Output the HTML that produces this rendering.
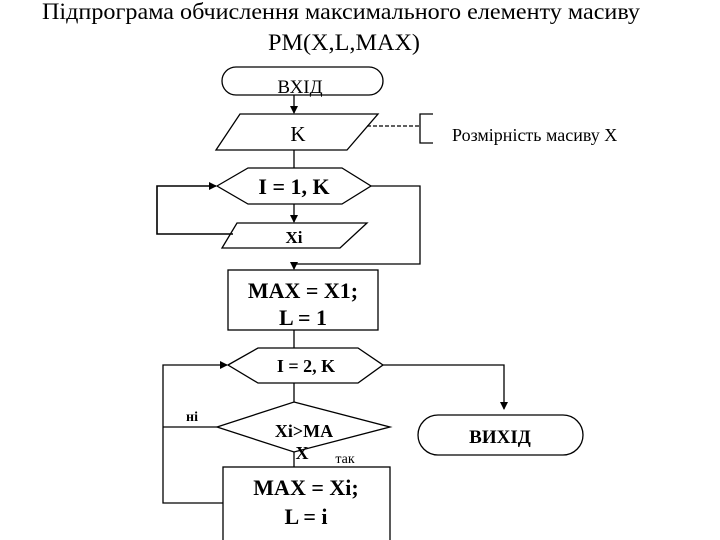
<!DOCTYPE html>
<html><head><meta charset="utf-8"><style>
body{margin:0;background:#fff}
svg{display:block}
text{font-family:"Liberation Serif",serif;fill:#000}
</style></head><body>
<svg width="720" height="540" viewBox="0 0 720 540">
<defs><marker id="a" markerWidth="8" markerHeight="8" refX="7" refY="4" orient="auto" markerUnits="userSpaceOnUse"><path d="M0,0 L8,4 L0,8z" fill="#000"/></marker></defs>
<text x="42" y="19" font-size="23" textLength="598" lengthAdjust="spacingAndGlyphs">Підпрограма обчислення максимального елементу масиву</text>
<text x="268" y="50" font-size="23" textLength="152" lengthAdjust="spacingAndGlyphs">PM(X,L,MAX)</text>
<g stroke="#000" stroke-width="1.3" fill="none">
<rect x="222" y="67" width="161" height="28" rx="14"/>
<line x1="294" y1="95" x2="294" y2="113" marker-end="url(#a)"/>
<polygon points="240,114 378,114 347,150 216,150"/>
<line x1="367" y1="126" x2="420" y2="126" stroke-dasharray="4,2"/>
<polyline points="433,114 420,114 420,143 433,143"/>
<line x1="294" y1="150" x2="294" y2="168"/>
<polygon points="217,186 248,168 342,168 371,186 342,204 248,204"/>
<polyline points="233,234 157,234 157,186 216,186" marker-end="url(#a)" stroke-width="1.6"/>
<polyline points="371,186 420,186 420,264 294,264 294,269" marker-end="url(#a)"/>
<line x1="294" y1="204" x2="294" y2="222" marker-end="url(#a)"/>
<polygon points="237,223 367,223 340,248 222,248"/>
<rect x="228" y="270" width="150" height="60"/>
<line x1="294" y1="330" x2="294" y2="348"/>
<polygon points="228,365 258,348 358,348 383,365 358,383 258,383"/>
<polyline points="223,503 163,503 163,365 227,365" marker-end="url(#a)"/>
<line x1="294" y1="383" x2="294" y2="402"/>
<polygon points="294,402 390,427 294,452 217,427"/>
<line x1="217" y1="427" x2="163" y2="427"/>
<line x1="294" y1="452" x2="294" y2="467"/>
<rect x="223" y="467" width="167" height="80"/>
<polyline points="383,365 504,365 504,409" marker-end="url(#a)"/>
<rect x="418" y="415" width="165" height="40" rx="20"/>
</g>
<text x="300" y="93" font-size="19" text-anchor="middle">ВХІД</text>
<text x="298" y="141" font-size="21" text-anchor="middle">K</text>
<text x="452" y="141" font-size="18">Розмірність масиву X</text>
<text x="294" y="194" font-size="22" font-weight="bold" text-anchor="middle">I = 1, K</text>
<text x="294" y="243" font-size="17" font-weight="bold" text-anchor="middle">Xi</text>
<text x="303" y="298" font-size="22" font-weight="bold" text-anchor="middle">MAX = X1;</text>
<text x="303" y="325" font-size="22" font-weight="bold" text-anchor="middle">L = 1</text>
<text x="306" y="372" font-size="18" font-weight="bold" text-anchor="middle">I = 2, K</text>
<text x="186" y="421" font-size="14" font-weight="bold">ні</text>
<text x="304" y="437" font-size="18" font-weight="bold" text-anchor="middle">Xi&gt;MA</text>
<text x="302" y="459" font-size="18" font-weight="bold" text-anchor="middle">X</text>
<text x="345" y="463" font-size="14" text-anchor="middle">так</text>
<text x="306" y="495" font-size="22" font-weight="bold" text-anchor="middle">MAX = Xi;</text>
<text x="306" y="524" font-size="22" font-weight="bold" text-anchor="middle">L = i</text>
<text x="500" y="443" font-size="19" font-weight="bold" text-anchor="middle">ВИХІД</text>
</svg>
</body></html>
